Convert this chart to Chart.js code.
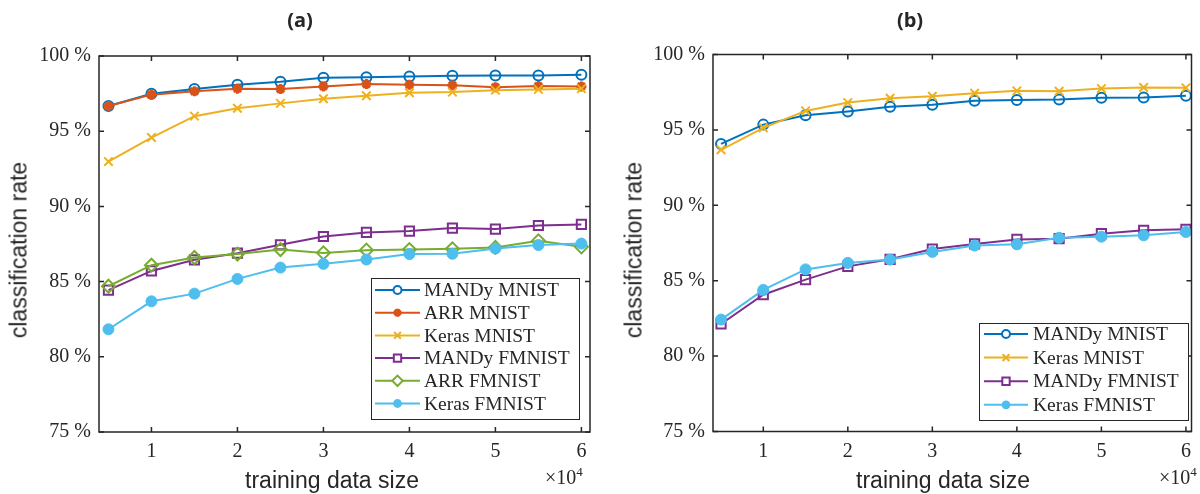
<!DOCTYPE html>
<html><head><meta charset="utf-8">
<script src="https://cdn.jsdelivr.net/npm/chart.js@4/dist/chart.umd.min.js"></script>
<style>
html,body{margin:0;padding:0;background:#fff}
body{width:1200px;height:494px;overflow:hidden;position:relative}
canvas{position:absolute;top:0}
.t{position:absolute;color:#262626;white-space:nowrap;line-height:1}
.title{font-family:"Open Sans",sans-serif;font-weight:bold;font-size:20px;transform:translateX(-50%)}
.xl{font-family:"Liberation Sans",Arial,sans-serif;font-size:23px;transform:translateX(-50%)}
.yl{font-family:"Liberation Sans",Arial,sans-serif;font-size:23px;transform:translate(-50%,-50%) rotate(-90deg)}
.mul{font-family:"Liberation Serif",serif;font-size:20px}
.mul sup{font-size:13px;vertical-align:0;position:relative;top:-8px}
</style></head><body>
<canvas id="ca" width="600" height="494" style="left:0"></canvas>
<canvas id="cb" width="600" height="494" style="left:600px"></canvas>
<div class="t title" style="left:300px;top:10px">(a)</div>
<div class="t title" style="left:910px;top:10px">(b)</div>
<div class="t yl" style="left:19px;top:250px">classification rate</div>
<div class="t yl" style="left:634px;top:250px">classification rate</div>
<div class="t xl" style="left:332px;top:469px">training data size</div>
<div class="t xl" style="left:943px;top:469px">training data size</div>
<div class="t mul" style="left:545px;top:467px">×10<sup>4</sup></div>
<div class="t mul" style="left:1159px;top:467px">×10<sup>4</sup></div>
<script>
const trainingSizes = [5000,10000,15000,20000,25000,30000,35000,40000,45000,50000,55000,60000];
const xTickValues = [10000,20000,30000,40000,50000,60000];
const yTickValues = [75,80,85,90,95,100];

// panel (a)
const mandyMnistA  = [96.67,97.49,97.80,98.09,98.29,98.56,98.58,98.63,98.69,98.71,98.71,98.76];
const arrMnistA    = [96.67,97.43,97.65,97.83,97.80,97.98,98.13,98.09,98.05,97.93,98.00,97.98];
const kerasMnistA  = [92.98,94.58,96.00,96.53,96.85,97.16,97.36,97.56,97.60,97.73,97.78,97.83];
const mandyFmnistA = [84.43,85.71,86.45,86.89,87.45,88.00,88.27,88.36,88.56,88.49,88.73,88.80];
const arrFmnistA   = [84.69,86.09,86.60,86.83,87.13,86.91,87.09,87.13,87.18,87.27,87.71,87.31];
const kerasFmnistA = [81.83,83.69,84.20,85.18,85.93,86.18,86.47,86.83,86.85,87.20,87.43,87.53];

// panel (b)
const mandyMnistB  = [94.07,95.35,95.97,96.22,96.53,96.66,96.93,96.99,97.01,97.13,97.15,97.26];
const kerasMnistB  = [93.68,95.14,96.26,96.81,97.10,97.23,97.43,97.59,97.56,97.74,97.81,97.79];
const mandyFmnistB = [82.13,84.07,85.07,85.95,86.42,87.10,87.44,87.74,87.79,88.12,88.34,88.41];
const kerasFmnistB = [82.42,84.39,85.75,86.18,86.40,86.91,87.33,87.41,87.84,87.92,88.01,88.23];

const C = {blue:'#0072BD', orange:'#D95319', yellow:'#EDB120', purple:'#7E2F8E', green:'#77AC30', cyan:'#4DBEEE'};
const AX = '#262626';

const styles = {
  'MANDy MNIST':  {color:C.blue,   pointStyle:'circle',   radius:5,   fill:false, bw:2},
  'ARR MNIST':    {color:C.orange, pointStyle:'star',     radius:5,   fill:true,  bw:3},
  'Keras MNIST':  {color:C.yellow, pointStyle:'crossRot', radius:6,   fill:false, bw:2},
  'MANDy FMNIST': {color:C.purple, pointStyle:'rect',     radius:6.5, fill:false, bw:2},
  'ARR FMNIST':   {color:C.green,  pointStyle:'rectRot',  radius:6.5, fill:false, bw:2},
  'Keras FMNIST': {color:C.cyan,   pointStyle:'circle',   radius:5.5, fill:true,  bw:1}
};

function ds(label, data, i, n){
  const s = styles[label];
  return {
    label, data: trainingSizes.map((x,k)=>({x, y:data[k]})),
    borderColor:s.color, backgroundColor: s.fill ? s.color : '#ffffff',
    pointBorderColor:s.color, pointBackgroundColor: s.fill ? s.color : 'rgba(255,255,255,0)',
    pointStyle:s.pointStyle, pointRadius:s.radius, pointBorderWidth:s.bw,
    borderWidth:2, tension:0, clip:false, order:n-i
  };
}

function drawMarker(ctx, st, x, y, scale){
  const r = st.radius*scale;
  ctx.save();
  ctx.strokeStyle = st.color; ctx.fillStyle = st.color; ctx.lineWidth = st.bw;
  ctx.beginPath();
  switch(st.pointStyle){
    case 'circle':
      ctx.arc(x,y,r,0,Math.PI*2);
      if(st.fill){ctx.fill();} else {ctx.fillStyle='#fff';ctx.fill();ctx.stroke();}
      break;
    case 'star':
      for(let a=0;a<4;a++){const t=a*Math.PI/4;ctx.moveTo(x-Math.cos(t)*r,y-Math.sin(t)*r);ctx.lineTo(x+Math.cos(t)*r,y+Math.sin(t)*r);}
      ctx.stroke(); break;
    case 'crossRot':
      {const d=r*Math.SQRT1_2; ctx.moveTo(x-d,y-d);ctx.lineTo(x+d,y+d);ctx.moveTo(x+d,y-d);ctx.lineTo(x-d,y+d);ctx.stroke();}
      break;
    case 'rect':
      {const d=r*Math.SQRT1_2; ctx.rect(x-d,y-d,2*d,2*d); ctx.fillStyle='#fff';ctx.fill();ctx.stroke();}
      break;
    case 'rectRot':
      ctx.moveTo(x-r,y);ctx.lineTo(x,y-r);ctx.lineTo(x+r,y);ctx.lineTo(x,y+r);ctx.closePath();
      ctx.fillStyle='#fff';ctx.fill();ctx.stroke(); break;
  }
  ctx.restore();
}

const framePlugin = {
  id:'frame',
  afterDraw(chart){
    const o = chart.options.plugins.frame;
    const {ctx, chartArea:{left,right,top,bottom}} = chart;
    const x = chart.scales.x, y = chart.scales.y;
    ctx.save();
    ctx.strokeStyle = AX; ctx.lineWidth = 1.5;
    ctx.strokeRect(left,top,right-left,bottom-top);
    const tl = 5;
    ctx.beginPath();
    xTickValues.forEach(v=>{const p=x.getPixelForValue(v);ctx.moveTo(p,bottom);ctx.lineTo(p,bottom-tl);ctx.moveTo(p,top);ctx.lineTo(p,top+tl);});
    yTickValues.forEach(v=>{const p=y.getPixelForValue(v);ctx.moveTo(left,p);ctx.lineTo(left+tl,p);ctx.moveTo(right,p);ctx.lineTo(right-tl,p);});
    ctx.stroke();
    // legend
    const L = o.legend;
    ctx.fillStyle='#fff';
    ctx.fillRect(L.x0,L.y0,L.x1-L.x0,L.y1-L.y0);
    ctx.lineWidth=1; ctx.strokeStyle=AX;
    ctx.strokeRect(L.x0+0.5,L.y0+0.5,L.x1-L.x0-1,L.y1-L.y0-1);
    ctx.font='19.5px "Liberation Serif", serif';
    ctx.textBaseline='middle'; ctx.textAlign='left';
    L.labels.forEach((lab,i)=>{
      const st = styles[lab];
      const yy = L.ey + i*L.step;
      ctx.strokeStyle=st.color; ctx.lineWidth=2;
      ctx.beginPath(); ctx.moveTo(L.lx0,yy); ctx.lineTo(L.lx1,yy); ctx.stroke();
      drawMarker(ctx, st, (L.lx0+L.lx1)/2, yy, 0.8);
      ctx.fillStyle=AX;
      ctx.fillText(lab, L.tx, yy+1);
    });
    ctx.restore();
  }
};

function makeChart(id, datasets, P){
  return new Chart(document.getElementById(id), {
    type:'line',
    data:{datasets},
    options:{
      responsive:false, animation:false, events:[],
      layout:{padding:{left:0,top:P.top,right:P.right,bottom:0}},
      plugins:{legend:{display:false}, tooltip:{enabled:false}, title:{display:false}, frame:{legend:P.legend}},
      scales:{
        x:{type:'linear', min:P.xmin, max:P.xmax,
           afterBuildTicks:s=>{s.ticks=xTickValues.map(v=>({value:v}));},
           afterFit:s=>{s.height=P.xh;},
           grid:{display:false, drawTicks:false}, border:{display:false},
           ticks:{padding:8, color:AX, font:{family:'"Liberation Serif", serif', size:20}, maxRotation:0, autoSkip:false,
                  callback:v=>String(v/10000)}},
        y:{type:'linear', min:75, max:100,
           afterBuildTicks:s=>{s.ticks=yTickValues.map(v=>({value:v}));},
           afterFit:s=>{s.width=P.yw;},
           grid:{display:false, drawTicks:false}, border:{display:false},
           ticks:{padding:8, color:AX, font:{family:'"Liberation Serif", serif', size:20},
                  callback:v=>v+' %'}}
      }
    },
    plugins:[framePlugin]
  });
}

const labelsA = ['MANDy MNIST','ARR MNIST','Keras MNIST','MANDy FMNIST','ARR FMNIST','Keras FMNIST'];
const dataA = [mandyMnistA, arrMnistA, kerasMnistA, mandyFmnistA, arrFmnistA, kerasFmnistA];
makeChart('ca', labelsA.map((l,i)=>ds(l,dataA[i],i,labelsA.length)), {
  top:56, right:10, xh:62, yw:99, xmin:3900, xmax:61000,
  legend:{x0:371,y0:278,x1:580,y1:420, ey:290, step:22.7, lx0:375, lx1:420, tx:424, labels:labelsA}
});

const labelsB = ['MANDy MNIST','Keras MNIST','MANDy FMNIST','Keras FMNIST'];
const dataB = [mandyMnistB, kerasMnistB, mandyFmnistB, kerasFmnistB];
makeChart('cb', labelsB.map((l,i)=>ds(l,dataB[i],i,labelsB.length)), {
  top:54.5, right:1, xh:62.5, yw:113, xmin:4050, xmax:60660,
  legend:{x0:379,y0:323,x1:589,y1:421, ey:334, step:23.6, lx0:384, lx1:428, tx:433, labels:labelsB}
});
</script>
</body></html>
